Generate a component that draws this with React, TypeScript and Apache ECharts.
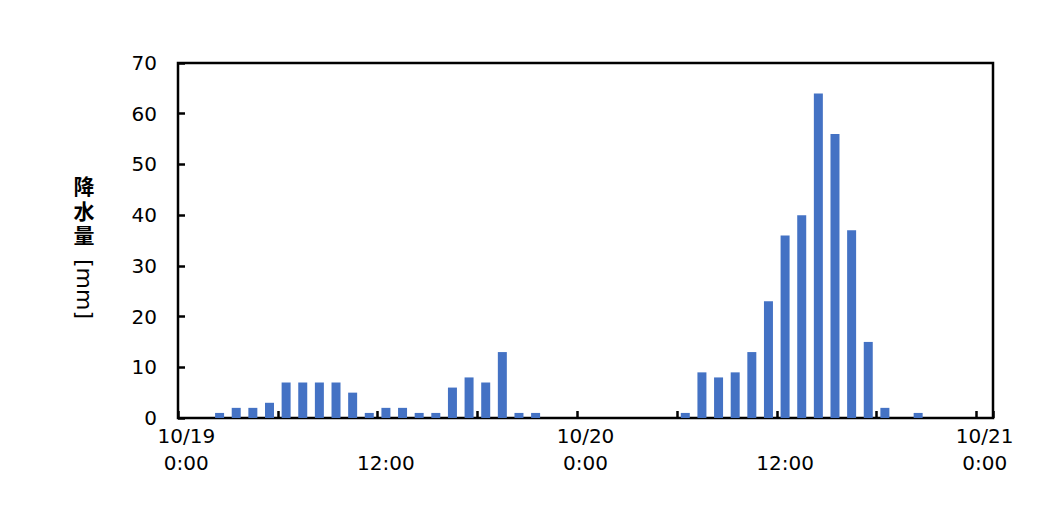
import React, { useEffect, useRef } from "react";
import * as echarts from "echarts";

const days = ["10/19", "10/20", "10/21"];
const hoursPerDay = 24;
const rainfall = [
  0, 0, 1, 2, 2, 3, 7, 7, 7, 7, 5, 1, 2, 2, 1, 1, 6, 8, 7, 13, 1, 1, 0, 0,
  0, 0, 0, 0, 0, 0, 1, 9, 8, 9, 13, 23, 36, 40, 64, 56, 37, 15, 2, 0, 1, 0, 0, 0,
  0,
];
const yTicks = [0, 10, 20, 30, 40, 50, 60, 70];
const yTitleChars = ["降", "水", "量"];
const yTitleUnit = "[mm]";

const categories: string[] = [];
for (let i = 0; i < rainfall.length; i++) {
  const d = days[Math.floor(i / hoursPerDay)];
  const h = i % hoursPerDay;
  categories.push(`${d} ${h}:00`);
}

export default function App() {
  const ref = useRef<HTMLDivElement>(null);
  useEffect(() => {
    if (!ref.current) return;
    const chart = echarts.init(ref.current, undefined, { renderer: "svg" });
    const font = "DejaVu Sans, Verdana, sans-serif";
    const cjk = "'DejaVu Sans', 'Noto Sans CJK JP', sans-serif";
    chart.setOption({
      animation: false,
      backgroundColor: "#fff",
      grid: {
        left: 178,
        right: 50,
        top: 63,
        bottom: 95,
        show: true,
        borderColor: "#000",
        borderWidth: 2.5,
        backgroundColor: "transparent",
      },
      xAxis: {
        type: "category",
        data: categories,
        boundaryGap: true,
        axisLine: { show: false },
        axisTick: {
          show: true,
          inside: true,
          length: 7,
          interval: 5,
          lineStyle: { color: "#000", width: 2.5 },
        },
        axisLabel: {
          interval: 11,
          margin: 4,
          fontFamily: font,
          fontSize: 20,
          lineHeight: 27,
          color: "#000",
          formatter: (v: string) => {
            const [d, t] = v.split(" ");
            return t === "0:00" ? `${d}\n${t}` : `\n${t}`;
          },
        },
        splitLine: { show: false },
      },
      yAxis: {
        type: "value",
        min: yTicks[0],
        max: yTicks[yTicks.length - 1],
        interval: 10,
        axisLine: { show: false },
        axisTick: {
          show: true,
          inside: true,
          length: 7,
          lineStyle: { color: "#000", width: 2.5 },
        },
        axisLabel: {
          margin: 21,
          fontFamily: font,
          fontSize: 20,
          color: "#000",
        },
        splitLine: { show: false },
      },
      series: [
        {
          type: "bar",
          data: rainfall,
          barWidth: 9,
          itemStyle: { color: "#4472C4" },
        },
      ],
      graphic: [
        ...yTitleChars.map((c, i) => ({
          type: "text",
          x: 84,
          y: 187 + i * 24.5,
          style: {
            text: c,
            font: `bold 21px ${cjk}`,
            lineHeight: 23,
            fill: "#000",
            textAlign: "center",
            textVerticalAlign: "middle",
          },
        })),
        {
          type: "text",
          x: 84,
          y: 289,
          rotation: -Math.PI / 2,
          style: {
            text: yTitleUnit,
            font: `22px ${font}`,
            fill: "#000",
            textAlign: "center",
            textVerticalAlign: "middle",
          },
        },
      ],
    });
    return () => chart.dispose();
  }, []);
  return (
    <div
      ref={ref}
      style={{ position: "absolute", left: 0, top: 0, width: 1043, height: 513 }}
    />
  );
}
